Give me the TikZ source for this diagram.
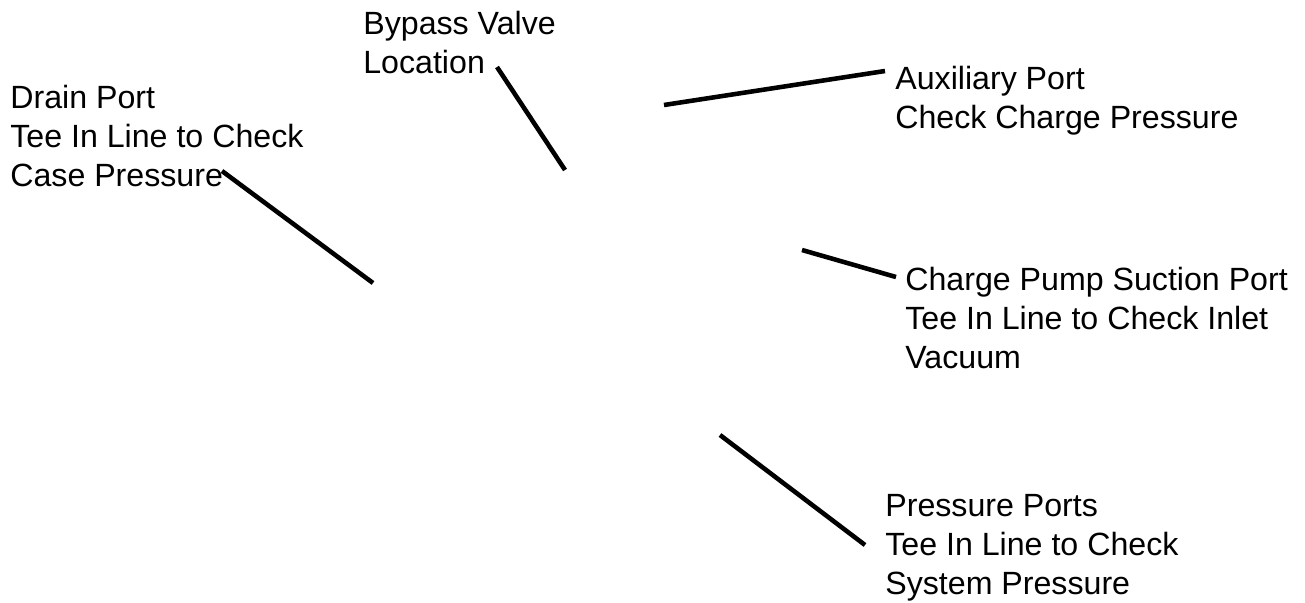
\documentclass[tikz,border=0pt]{standalone}
\usepackage{fontspec}
\setmainfont{Liberation Sans}
\usepackage{tikz}
\tikzset{
  lbl/.style={anchor=base west, align=left, inner sep=0pt, font=\fontsize{18.3}{22}\selectfont},
  leader/.style={draw=black, line width=2.6pt}
}

\begin{document}
\begin{tikzpicture}[x=0.02cm, y=-0.02cm]
    \useasboundingbox (0,0) rectangle (1305,602);
    \node (drain) at (10,186) [lbl] {Drain Port\\Tee In Line to Check\\Case Pressure};
    \node (bypass) at (363,73) [lbl] {Bypass Valve\\Location};
    \node (aux) at (895,128) [lbl] {Auxiliary Port\\Check Charge Pressure};
    \node (suction) at (905,368) [lbl] {Charge Pump Suction Port\\Tee In Line to Check Inlet\\Vacuum};
    \node (press) at (885,594) [lbl] {Pressure Ports\\Tee In Line to Check\\System Pressure};
    % leader lines
    \coordinate (drainA) at (222,171);  \coordinate (drainB) at (373,283);
    \coordinate (bypassA) at (497,67);  \coordinate (bypassB) at (565,170);
    \coordinate (auxA) at (885,71);     \coordinate (auxB) at (664,105);
    \coordinate (suctionA) at (896,277); \coordinate (suctionB) at (802,250);
    \coordinate (pressA) at (865,545);  \coordinate (pressB) at (720,435);
    \draw[leader] (drainA) -- (drainB);
    \draw[leader] (bypassA) -- (bypassB);
    \draw[leader] (auxA) -- (auxB);
    \draw[leader] (suctionA) -- (suctionB);
    \draw[leader] (pressA) -- (pressB);
\end{tikzpicture}
\end{document}
